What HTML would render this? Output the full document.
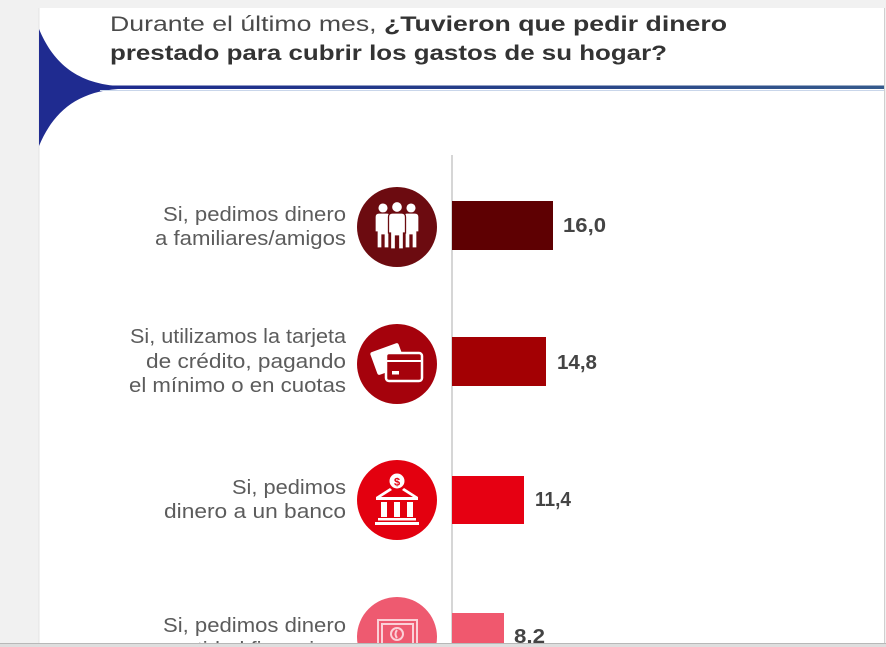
<!DOCTYPE html>
<html>
<head>
<meta charset="utf-8">
<style>
  html,body{margin:0;padding:0;background:#f1f1f1;}
  svg{display:block;}
  text{font-family:"Liberation Sans", Arial, sans-serif;}
</style>
</head>
<body>
<svg width="886" height="647" viewBox="0 0 886 647" xmlns="http://www.w3.org/2000/svg">
  <defs>
    <linearGradient id="lg" x1="0" y1="0" x2="1" y2="0">
      <stop offset="0" stop-color="#1d2a8e"/>
      <stop offset="0.5" stop-color="#253f88"/>
      <stop offset="1" stop-color="#355a8c"/>
    </linearGradient>
  </defs>
  <!-- background -->
  <rect x="0" y="0" width="886" height="647" fill="#f1f1f1"/>
  <!-- card -->
  <rect x="39" y="8" width="845" height="636" fill="#ffffff"/>
  <line x1="39" y1="8" x2="39" y2="644" stroke="#e4e4e4" stroke-width="1"/>
  <line x1="884.5" y1="8" x2="884.5" y2="644" stroke="#cfcfcf" stroke-width="1"/>

  <!-- blue decoration -->
  <path d="M39,29 C52,60 74,83 118,86 L118,89 C74,92 52,115 39,146 Z" fill="#1f2b90"/>
  <rect x="100" y="85.5" width="784" height="3.5" fill="url(#lg)"/>
  <line x1="100" y1="90.5" x2="884" y2="90.5" stroke="#c9d6ea" stroke-width="1"/>

  <!-- title -->
  <text x="110" y="31" font-size="21" fill="#4a4a4a" textLength="617" lengthAdjust="spacingAndGlyphs">Durante el último mes, <tspan font-weight="bold" fill="#333333">¿Tuvieron que pedir dinero</tspan></text>
  <text x="110" y="60" font-size="21" font-weight="bold" fill="#333333" textLength="557" lengthAdjust="spacingAndGlyphs">prestado para cubrir los gastos de su hogar?</text>

  <!-- axis -->
  <line x1="452" y1="155" x2="452" y2="643" stroke="#c9c9c9" stroke-width="1.5"/>

  <!-- labels -->
  <g font-size="20" fill="#5c5c5c" text-anchor="end">
    <text x="346" y="221" textLength="183" lengthAdjust="spacingAndGlyphs">Si, pedimos dinero</text>
    <text x="346" y="245" textLength="191" lengthAdjust="spacingAndGlyphs">a familiares/amigos</text>

    <text x="346" y="343" textLength="216" lengthAdjust="spacingAndGlyphs">Si, utilizamos la tarjeta</text>
    <text x="346" y="368" textLength="200" lengthAdjust="spacingAndGlyphs">de crédito, pagando</text>
    <text x="346" y="392" textLength="217" lengthAdjust="spacingAndGlyphs">el mínimo o en cuotas</text>

    <text x="346" y="494" textLength="114" lengthAdjust="spacingAndGlyphs">Si, pedimos</text>
    <text x="346" y="518" textLength="182" lengthAdjust="spacingAndGlyphs">dinero a un banco</text>

    <text x="346" y="632" textLength="183" lengthAdjust="spacingAndGlyphs">Si, pedimos dinero</text>
    <text x="346" y="656" textLength="235" lengthAdjust="spacingAndGlyphs">a una entidad financiera</text>
  </g>

  <!-- circles -->
  <circle cx="397" cy="227" r="40" fill="#6c0b10"/>
  <circle cx="397" cy="364" r="40" fill="#a5020c"/>
  <circle cx="397" cy="500" r="40" fill="#e3000f"/>
  <circle cx="397" cy="637" r="40" fill="#ee5a70"/>

  <!-- icon 1: people -->
  <g fill="#ffffff" stroke="#6c0b10" stroke-width="1.3">
    <circle cx="383" cy="208" r="5.2"/>
    <circle cx="411" cy="208" r="5.2"/>
    <path d="M375,217 Q375,213 379,213 L387,213 Q391,213 391,217 L391,232 L389,232 L389,248 L384,248 L384,235 L382,235 L382,248 L377,248 L377,232 L375,232 Z"/>
    <path d="M403,217 Q403,213 407,213 L415,213 Q419,213 419,217 L419,232 L417,232 L417,248 L412,248 L412,235 L410,235 L410,248 L405,248 L405,232 L403,232 Z"/>
    <circle cx="397" cy="207" r="5.5"/>
    <path d="M388.5,217 Q388.5,213 392.5,213 L401.5,213 Q405.5,213 405.5,217 L405.5,233 L403.5,233 L403.5,249 L398.5,249 L398.5,236 L395.5,236 L395.5,249 L390.5,249 L390.5,233 L388.5,233 Z"/>
  </g>

  <!-- icon 2: cards -->
  <g>
    <rect x="373" y="347" width="30" height="24" rx="2" fill="#ffffff" transform="rotate(-20 388 359)"/>
    <rect x="386" y="353" width="36" height="28" rx="3" fill="#a5020c" stroke="#ffffff" stroke-width="2.5"/>
    <line x1="387" y1="361" x2="421" y2="361" stroke="#ffffff" stroke-width="2"/>
    <rect x="392" y="371" width="7" height="3.5" fill="#ffffff"/>
  </g>

  <!-- icon 3: bank -->
  <g fill="#ffffff">
    <circle cx="397" cy="481" r="7.5" fill="#ffffff"/>
    <text x="397" y="485.5" font-size="11" font-weight="bold" fill="#e3000f" text-anchor="middle">$</text>
    <path d="M376,497 L390,488 L392,490 L381,497 Z"/>
    <path d="M418,497 L404,488 L402,490 L413,497 Z"/>
    <rect x="376" y="497" width="42" height="3"/>
    <rect x="381" y="502" width="6" height="15"/>
    <rect x="394" y="502" width="6" height="15"/>
    <rect x="407" y="502" width="6" height="15"/>
    <rect x="378" y="518" width="38" height="2.5"/>
    <rect x="375" y="522" width="44" height="3"/>
  </g>

  <!-- icon 4: screen with coin -->
  <g fill="none" stroke="#fbd0d7" stroke-width="2">
    <rect x="378" y="620" width="39" height="26"/>
    <rect x="382" y="624" width="31" height="22"/>
    <circle cx="397" cy="634" r="6"/>
    <path d="M397,630 Q394,634 397,638"/>
  </g>

  <!-- bars -->
  <rect x="452" y="201" width="101" height="49" fill="#5e0002"/>
  <rect x="452" y="337" width="94" height="49" fill="#a30003"/>
  <rect x="452" y="476" width="72" height="48" fill="#e60012"/>
  <rect x="452" y="613" width="52" height="34" fill="#f0586e"/>

  <!-- values -->
  <g font-size="20" font-weight="bold" fill="#444444">
    <text x="563" y="232" textLength="43" lengthAdjust="spacingAndGlyphs">16,0</text>
    <text x="557" y="369" textLength="40" lengthAdjust="spacingAndGlyphs">14,8</text>
    <text x="535" y="506" textLength="36" lengthAdjust="spacingAndGlyphs">11,4</text>
    <text x="514" y="643" textLength="31" lengthAdjust="spacingAndGlyphs">8,2</text>
  </g>

  <!-- bottom strip -->
  <rect x="0" y="644" width="886" height="3" fill="#dedede"/>
  <line x1="0" y1="643.5" x2="886" y2="643.5" stroke="#b8b8b8" stroke-width="1"/>
</svg>
</body>
</html>
